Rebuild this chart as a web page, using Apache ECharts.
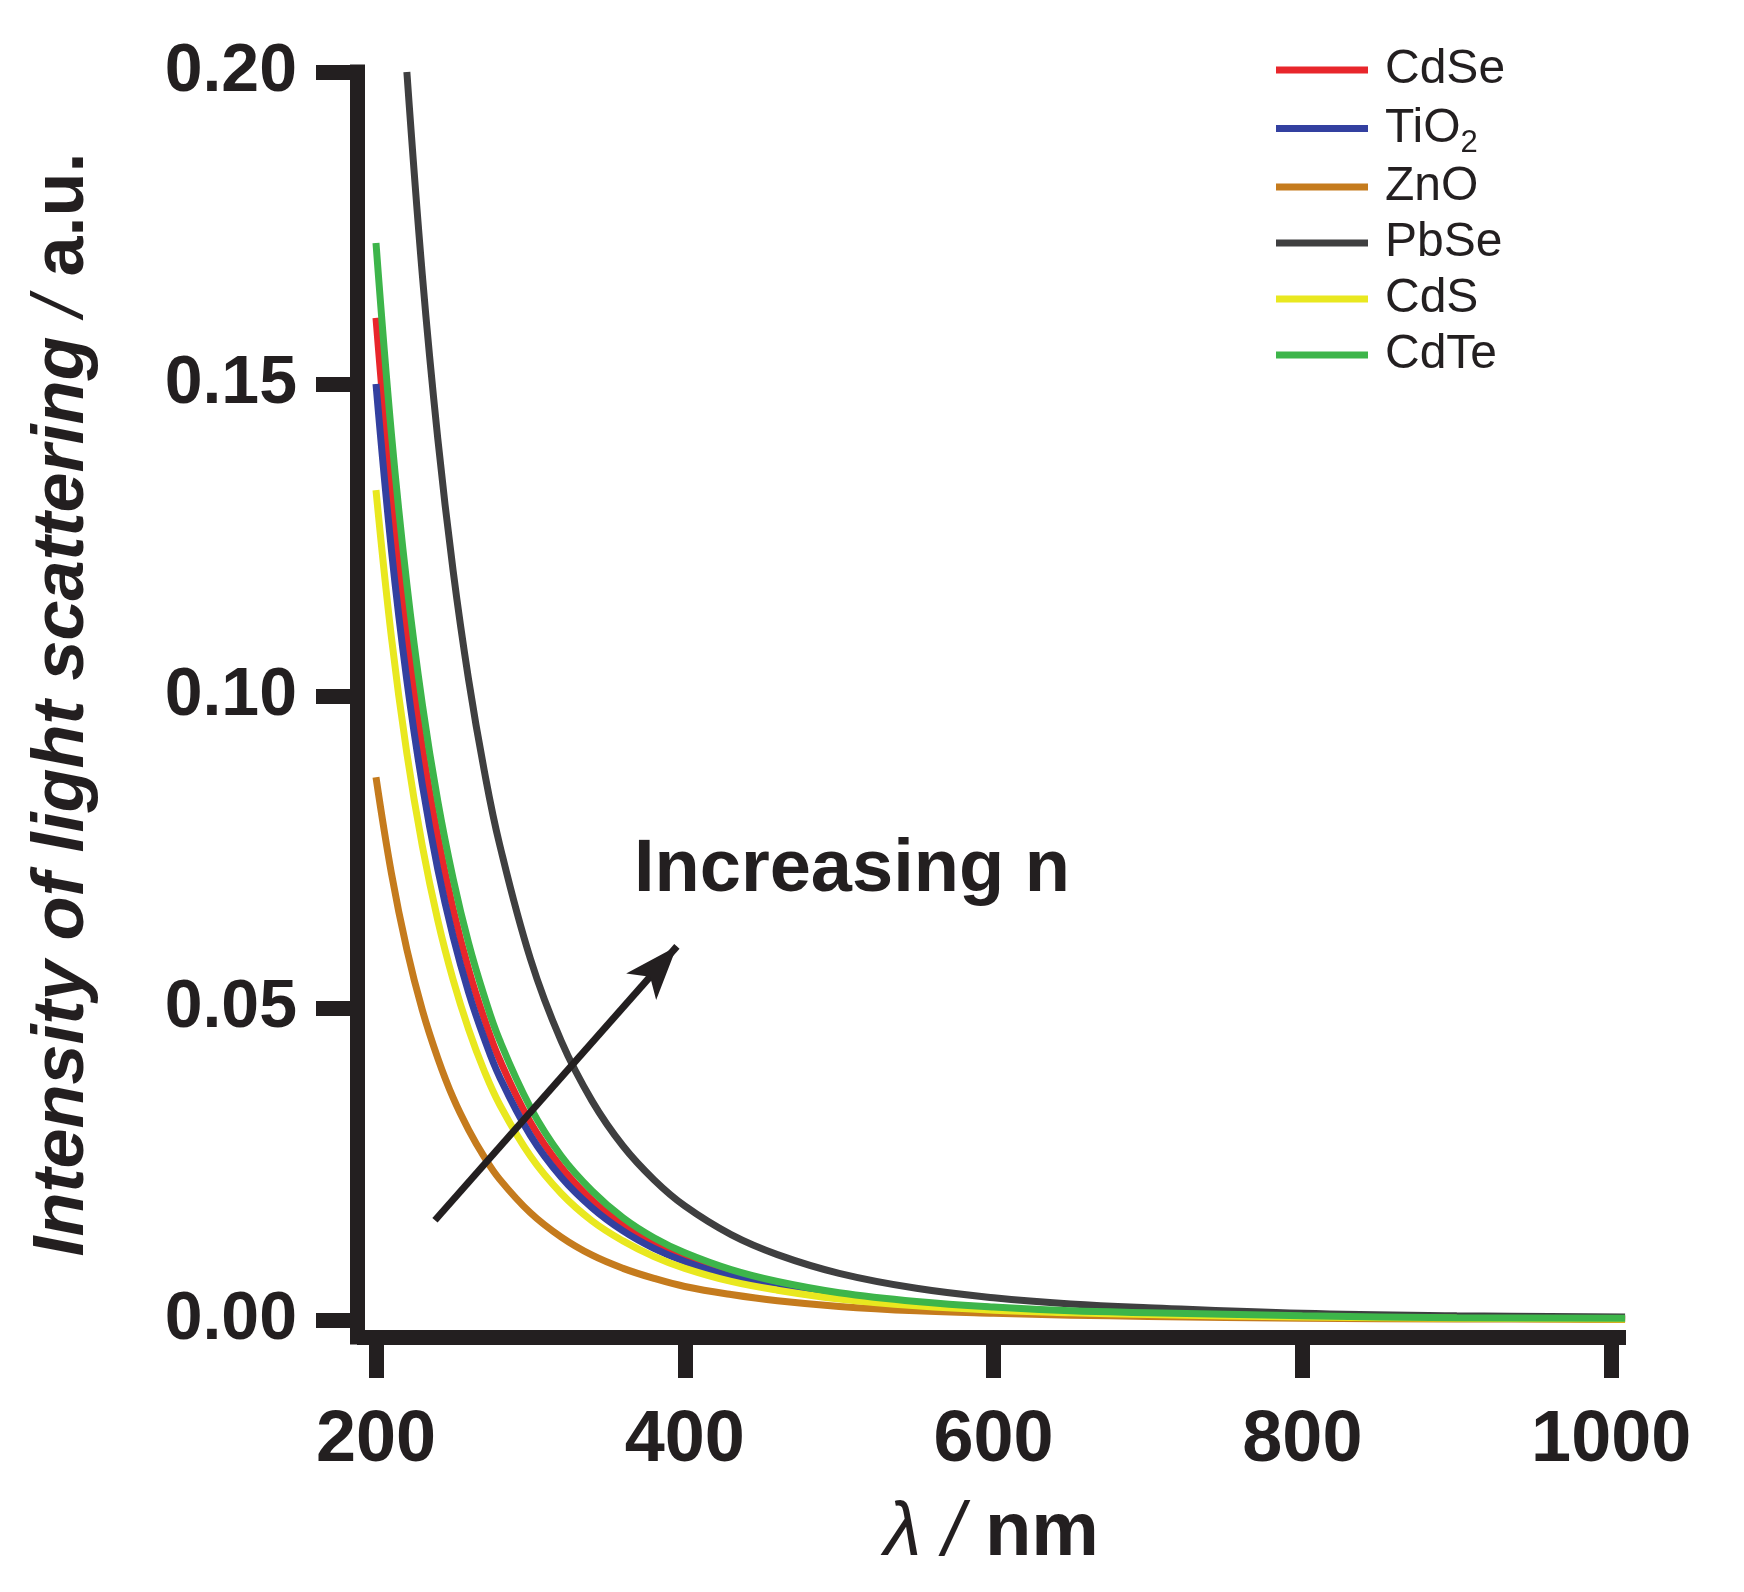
<!DOCTYPE html>
<html>
<head>
<meta charset="utf-8">
<script src="https://cdn.jsdelivr.net/npm/echarts@6/dist/echarts.min.js"></script>
<style>
  html, body { margin: 0; padding: 0; background: #fff; }
  #chart { width: 1744px; height: 1592px; }
</style>
</head>
<body>
<div id="chart"></div>
<script>
// wavelength samples (nm)
const wavelength = [200, 210, 220, 230, 240, 250, 260, 270, 280, 300, 320, 340, 360, 380, 400, 430, 460, 500, 550, 600, 650, 700, 800, 900, 1009];

// intensity (a.u.)
const cdse = [0.1606, 0.1321, 0.1097, 0.0918, 0.0775, 0.0658, 0.0562, 0.0484, 0.0418, 0.0317, 0.0245, 0.0192, 0.0153, 0.0123, 0.0100, 0.0075, 0.0057, 0.0041, 0.0028, 0.0020, 0.0014, 0.0011, 0.0006, 0.0004, 0.0002];
const tio2 = [0.150, 0.1234, 0.1025, 0.0858, 0.0723, 0.0614, 0.0525, 0.0452, 0.0390, 0.0296, 0.0229, 0.0180, 0.0143, 0.0115, 0.0094, 0.0070, 0.0054, 0.0038, 0.0026, 0.0019, 0.0013, 0.0010, 0.0006, 0.0004, 0.0002];
const zno  = [0.087, 0.0716, 0.0594, 0.0497, 0.0420, 0.0356, 0.0305, 0.0262, 0.0226, 0.0172, 0.0133, 0.0104, 0.0083, 0.0067, 0.0054, 0.0041, 0.0031, 0.0022, 0.0015, 0.0011, 0.0008, 0.0006, 0.0003, 0.0002, 0.0001];
const pbse = [null, null, 0.200, 0.1675, 0.1413, 0.1200, 0.1026, 0.0882, 0.0763, 0.0579, 0.0447, 0.0351, 0.0279, 0.0225, 0.0183, 0.0137, 0.0105, 0.0075, 0.0051, 0.0036, 0.0026, 0.0020, 0.0011, 0.0007, 0.0005];
const cds  = [0.133, 0.1094, 0.0908, 0.0760, 0.0641, 0.0545, 0.0466, 0.0400, 0.0346, 0.0263, 0.0203, 0.0159, 0.0127, 0.0102, 0.0083, 0.0062, 0.0048, 0.0034, 0.0023, 0.0016, 0.0012, 0.0009, 0.0005, 0.0003, 0.0002];
const cdte = [0.1726, 0.1420, 0.1179, 0.0987, 0.0832, 0.0707, 0.0604, 0.0520, 0.0449, 0.0341, 0.0263, 0.0207, 0.0164, 0.0132, 0.0108, 0.0081, 0.0062, 0.0044, 0.0030, 0.0021, 0.0015, 0.0012, 0.0007, 0.0004, 0.0003];

const xTicks = [200, 400, 600, 800, 1000];
const yTicks = [0, 0.05, 0.10, 0.15, 0.20];

// arrow "Increasing n" in data coords [x, y], tail -> tip
const arrowFrom = [238.2, 0.0160];
const arrowTo = [394.9, 0.0599];

const fontFamily = 'Liberation Sans, Arial, sans-serif';
const ink = '#231f20';

const seriesDefs = [
  { name: 'CdSe', data: cdse, color: '#e8262b' },
  { name: 'TiO2', data: tio2, color: '#3340a0' },
  { name: 'ZnO', data: zno, color: '#c57b1d' },
  { name: 'PbSe', data: pbse, color: '#3f3f40' },
  { name: 'CdS', data: cds, color: '#e9e81f' },
  { name: 'CdTe', data: cdte, color: '#3db54a' }
];

const toPairs = arr => wavelength.map((x, i) => [x, arr[i]]);

const series = seriesDefs.map(s => ({
  name: s.name,
  type: 'line',
  data: toPairs(s.data),
  showSymbol: false,
  symbol: 'none',
  smooth: 0.4,
  connectNulls: false,
  lineStyle: { color: s.color, width: 7 },
  itemStyle: { color: s.color }
}));

// arrow annotation hangs off the last series
series[series.length - 1].markLine = {
  silent: true,
  animation: false,
  symbol: ['none', 'arrow'],
  symbolSize: [30, 54],
  label: { show: false },
  lineStyle: { color: ink, width: 7, type: 'solid' },
  emphasis: { disabled: true },
  data: [[{ coord: arrowFrom }, { coord: arrowTo }]]
};

const chart = echarts.init(document.getElementById('chart'));
chart.setOption({
  animation: false,
  backgroundColor: '#fff',
  grid: { left: 357, right: 118, top: 72, bottom: 255, containLabel: false },
  legend: {
    orient: 'vertical',
    left: 1276,
    top: 42,
    padding: 0,
    icon: 'rect',
    itemWidth: 92,
    itemHeight: 7,
    itemGap: 0,
    data: seriesDefs.map(s => s.name),
    formatter: name => name === 'TiO2' ? '{n|TiO}{s|2}' : '{n|' + name + '}',
    textStyle: {
      color: ink,
      fontFamily: fontFamily,
      fontSize: 48,
      lineHeight: 56,
      padding: [0, 0, 0, 12],
      rich: {
        n: { fontSize: 48, lineHeight: 56, color: ink, fontFamily: fontFamily },
        s: { fontSize: 31, lineHeight: 26, padding: [30, 0, 0, 0], color: ink, fontFamily: fontFamily }
      }
    }
  },
  xAxis: {
    type: 'value',
    min: 187.7,
    max: 1009.6,
    name: '{l|λ}{s| /}{b| nm}',
    nameLocation: 'middle',
    nameGap: 159,
    nameTextStyle: {
      rich: {
        l: { fontSize: 76, fontStyle: 'italic', color: ink, fontFamily: fontFamily },
        s: { fontSize: 76, fontStyle: 'italic', color: ink, fontFamily: fontFamily },
        b: { fontSize: 76, fontWeight: 'bold', color: ink, fontFamily: fontFamily }
      }
    },
    axisLine: { onZero: false, lineStyle: { color: ink, width: 15, cap: 'butt' } },
    axisTick: { customValues: xTicks, length: 41, lineStyle: { color: ink, width: 15 } },
    axisLabel: {
      customValues: xTicks,
      margin: 68,
      fontSize: 72,
      fontWeight: 'bold',
      color: ink,
      fontFamily: fontFamily,
      formatter: v => String(v)
    },
    splitLine: { show: false }
  },
  yAxis: {
    type: 'value',
    min: -0.0027,
    max: 0.2,
    name: '{i|Intensity of light scattering}{s| / }{b|a.u.}',
    nameLocation: 'middle',
    nameGap: 258,
    nameTextStyle: {
      rich: {
        i: { fontSize: 72, fontStyle: 'italic', fontWeight: 'bold', color: ink, fontFamily: fontFamily },
        s: { fontSize: 72, fontStyle: 'italic', color: ink, fontFamily: fontFamily },
        b: { fontSize: 72, fontWeight: 'bold', color: ink, fontFamily: fontFamily }
      }
    },
    axisLine: { show: true, lineStyle: { color: ink, width: 15, cap: 'square' } },
    axisTick: { show: true, customValues: yTicks, length: 41, lineStyle: { color: ink, width: 15 } },
    axisLabel: {
      customValues: yTicks,
      margin: 60,
      fontSize: 68,
      fontWeight: 'bold',
      color: ink,
      fontFamily: fontFamily,
      formatter: v => v.toFixed(2)
    },
    splitLine: { show: false }
  },
  graphic: [{
    type: 'text',
    style: {
      x: 634,
      y: 871,
      text: 'Increasing n',
      font: 'bold 74px Liberation Sans, Arial, sans-serif',
      fill: ink,
      align: 'left',
      verticalAlign: 'middle'
    }
  }],
  series: series
});
</script>
</body>
</html>
